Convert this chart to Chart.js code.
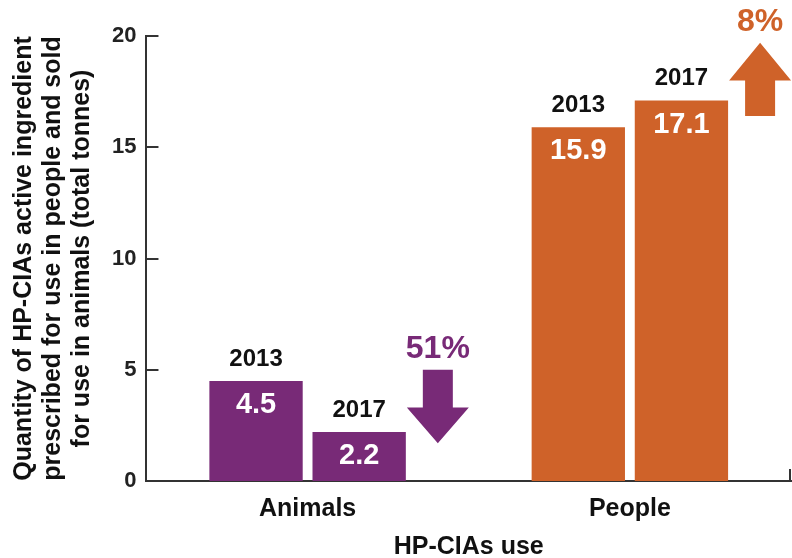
<!DOCTYPE html>
<html>
<head>
<meta charset="utf-8">
<script src="https://cdn.jsdelivr.net/npm/chart.js@4.4.1/dist/chart.umd.min.js"></script>
<style>
  body { margin: 0; background: #fff; }
  #wrap { width: 792px; height: 558px; }
</style>
</head>
<body>
<div id="wrap"><canvas id="barChart"></canvas></div>
<script>
var categories = ['Animals', 'People'];
var years = ['2013', '2017'];
var values2013 = [4.5, 15.9];
var values2017 = [2.2, 17.1];
var changeLabels = ['51%', '8%'];
var changeUp = [false, true];
var yTicks = [0, 5, 10, 15, 20];

var purple = '#782a77';
var orange = '#cf6229';
var catColors = [purple, orange];
var font = 'Liberation Sans, Arial, sans-serif';

// year above bar, value inside bar, arrows next to each group
var labelPlugin = {
    id: 'labelPlugin',
    afterDatasetsDraw: function (chart) {
        var ctx = chart.ctx;
        var y = chart.scales.y;
        ctx.save();
        ctx.textAlign = 'center';
        ctx.textBaseline = 'middle';
        chart.data.datasets.forEach(function (ds, di) {
            var meta = chart.getDatasetMeta(di);
            meta.data.forEach(function (bar, i) {
                ctx.fillStyle = '#111';
                ctx.font = 'bold 24px ' + font;
                ctx.fillText(ds.label, bar.x, bar.y - 22);
                ctx.fillStyle = '#fff';
                ctx.font = 'bold 29px ' + font;
                ctx.fillText(ds.data[i].toFixed(1), bar.x, bar.y + 24);
            });
        });

        // change arrows
        var last = chart.getDatasetMeta(1);
        categories.forEach(function (c, i) {
            var bar = last.data[i];
            var cx = bar.x + bar.width / 2 + 32;
            ctx.fillStyle = catColors[i];
            var top, tip, headBase, base;
            ctx.beginPath();
            if (changeUp[i]) {
                tip = y.getPixelForValue(19.7);
                headBase = y.getPixelForValue(18.0);
                base = y.getPixelForValue(16.4);
                ctx.moveTo(cx, tip);
                ctx.lineTo(cx + 31, headBase);
                ctx.lineTo(cx + 15, headBase);
                ctx.lineTo(cx + 15, base);
                ctx.lineTo(cx - 15, base);
                ctx.lineTo(cx - 15, headBase);
                ctx.lineTo(cx - 31, headBase);
                top = tip;
            } else {
                top = y.getPixelForValue(5.0);
                headBase = y.getPixelForValue(3.3);
                tip = y.getPixelForValue(1.7);
                ctx.moveTo(cx - 15, top);
                ctx.lineTo(cx + 15, top);
                ctx.lineTo(cx + 15, headBase);
                ctx.lineTo(cx + 31, headBase);
                ctx.lineTo(cx, tip);
                ctx.lineTo(cx - 31, headBase);
                ctx.lineTo(cx - 15, headBase);
            }
            ctx.closePath();
            ctx.fill();
            ctx.font = 'bold 32px ' + font;
            ctx.fillText(changeLabels[i], cx, top - 21);
        });
        ctx.restore();
    }
};

// inward tick marks on the y axis, end tick on x axis
var tickPlugin = {
    id: 'tickPlugin',
    afterDraw: function (chart) {
        var ctx = chart.ctx;
        var y = chart.scales.y;
        var area = chart.chartArea;
        ctx.save();
        ctx.strokeStyle = '#333';
        ctx.lineWidth = 2;
        ctx.beginPath();
        y.ticks.forEach(function (t) {
            var py = Math.round(y.getPixelForValue(t.value));
            ctx.moveTo(area.left, py);
            ctx.lineTo(area.left + 12, py);
        });
        ctx.moveTo(area.right - 1, area.bottom);
        ctx.lineTo(area.right - 1, area.bottom - 12);
        ctx.stroke();
        ctx.restore();
    }
};

var ctx = document.getElementById('barChart');
var chart = new Chart(ctx, {
    type: 'bar',
    data: {
        labels: categories,
        datasets: [{
            label: years[0],
            data: values2013,
            backgroundColor: catColors
        }, {
            label: years[1],
            data: values2017,
            backgroundColor: catColors
        }]
    },
    options: {
        responsive: true,
        maintainAspectRatio: false,
        animation: false,
        categoryPercentage: 0.64,
        barPercentage: 0.905,
        layout: { padding: { top: 36, right: 1, left: 10, bottom: 1 } },
        plugins: {
            legend: { display: false },
            tooltip: { enabled: false }
        },
        scales: {
            x: {
                grid: { display: false, drawTicks: false, tickLength: 0 },
                border: { color: '#333', width: 2 },
                ticks: { color: '#111', font: { family: font, size: 25, weight: 'bold', lineHeight: 0.96 }, padding: 16 },
                title: {
                    display: true,
                    text: 'HP-CIAs use',
                    color: '#111',
                    font: { family: font, size: 25, weight: 'bold', lineHeight: 0.8 },
                    padding: { top: 0, bottom: 0 }
                }
            },
            y: {
                min: 0,
                max: 20,
                afterBuildTicks: function (axis) {
                    axis.ticks = yTicks.map(function (v) { return { value: v }; });
                },
                grid: { display: false, drawTicks: false, tickLength: 0 },
                border: { color: '#333', width: 2 },
                ticks: { color: '#222', font: { family: font, size: 22, weight: 'bold' }, padding: 10 },
                title: {
                    display: true,
                    text: ['Quantity of HP-CIAs active ingredient',
                           'prescribed for use in people and sold',
                           'for use in animals (total tonnes)'],
                    color: '#111',
                    font: { family: font, size: 25, weight: 'bold', lineHeight: 1.16 },
                    padding: { top: 0, bottom: 5 }
                }
            }
        }
    },
    plugins: [labelPlugin, tickPlugin]
});
</script>
</body>
</html>
